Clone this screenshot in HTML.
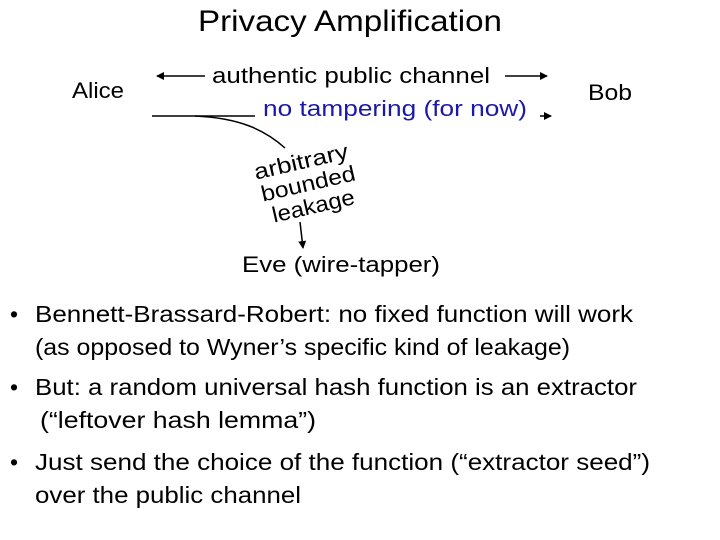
<!DOCTYPE html>
<html><head><style>
html,body{margin:0;padding:0;background:#fff;}
svg{display:block;font-family:"Liberation Sans",sans-serif;}
</style></head><body>
<svg width="720" height="540" viewBox="0 0 720 540" xmlns="http://www.w3.org/2000/svg">
<defs>
<marker id="ah" markerWidth="8" markerHeight="8" refX="7" refY="4" orient="auto" markerUnits="userSpaceOnUse">
<path d="M0,0 L8,4 L0,8 z" fill="#000"/></marker>
</defs>
<text x="198" y="31" font-size="30" textLength="304" lengthAdjust="spacingAndGlyphs">Privacy Amplification</text>
<text x="72" y="98" font-size="22" textLength="52" lengthAdjust="spacingAndGlyphs">Alice</text>
<text x="588" y="100" font-size="22" textLength="44" lengthAdjust="spacingAndGlyphs">Bob</text>
<text x="212" y="83" font-size="22" textLength="278" lengthAdjust="spacingAndGlyphs">authentic public channel</text>
<text x="263" y="116" font-size="22" fill="#1a1aa6" textLength="264" lengthAdjust="spacingAndGlyphs">no tampering (for now)</text>
<line x1="205" y1="76" x2="157" y2="76" stroke="#000" stroke-width="1.5" marker-end="url(#ah)"/>
<line x1="505" y1="76" x2="547" y2="76" stroke="#000" stroke-width="1.5" marker-end="url(#ah)"/>
<line x1="152" y1="116" x2="255" y2="116" stroke="#000" stroke-width="1.5"/>
<line x1="540" y1="116" x2="551" y2="116" stroke="#000" stroke-width="1.5" marker-end="url(#ah)"/>
<path d="M195,116 C240,118 265,130 285,148" fill="none" stroke="#000" stroke-width="1.5"/>
<g transform="rotate(-13 308 183)" font-size="22" text-anchor="middle">
<text x="306" y="168" textLength="96" lengthAdjust="spacingAndGlyphs">arbitrary</text>
<text x="308" y="191" textLength="96" lengthAdjust="spacingAndGlyphs">bounded</text>
<text x="308" y="214" textLength="84" lengthAdjust="spacingAndGlyphs">leakage</text>
</g>
<line x1="300" y1="222" x2="303" y2="248" stroke="#000" stroke-width="1.5" marker-end="url(#ah)"/>
<text x="242" y="272" font-size="22" textLength="198" lengthAdjust="spacingAndGlyphs">Eve (wire-tapper)</text>
<g font-size="23">
<text x="10" y="322">•</text>
<text x="35" y="322" textLength="598" lengthAdjust="spacingAndGlyphs">Bennett-Brassard-Robert: no fixed function will work</text>
<text x="35" y="355" textLength="535" lengthAdjust="spacingAndGlyphs">(as opposed to Wyner’s specific kind of leakage)</text>
<text x="10" y="395">•</text>
<text x="35" y="395" textLength="602" lengthAdjust="spacingAndGlyphs">But: a random universal hash function is an extractor</text>
<text x="40" y="428" textLength="276" lengthAdjust="spacingAndGlyphs">(“leftover hash lemma”)</text>
<text x="10" y="470">•</text>
<text x="35" y="470" textLength="615" lengthAdjust="spacingAndGlyphs">Just send the choice of the function (“extractor seed”)</text>
<text x="35" y="503" textLength="266" lengthAdjust="spacingAndGlyphs">over the public channel</text>
</g>
</svg>
</body></html>
